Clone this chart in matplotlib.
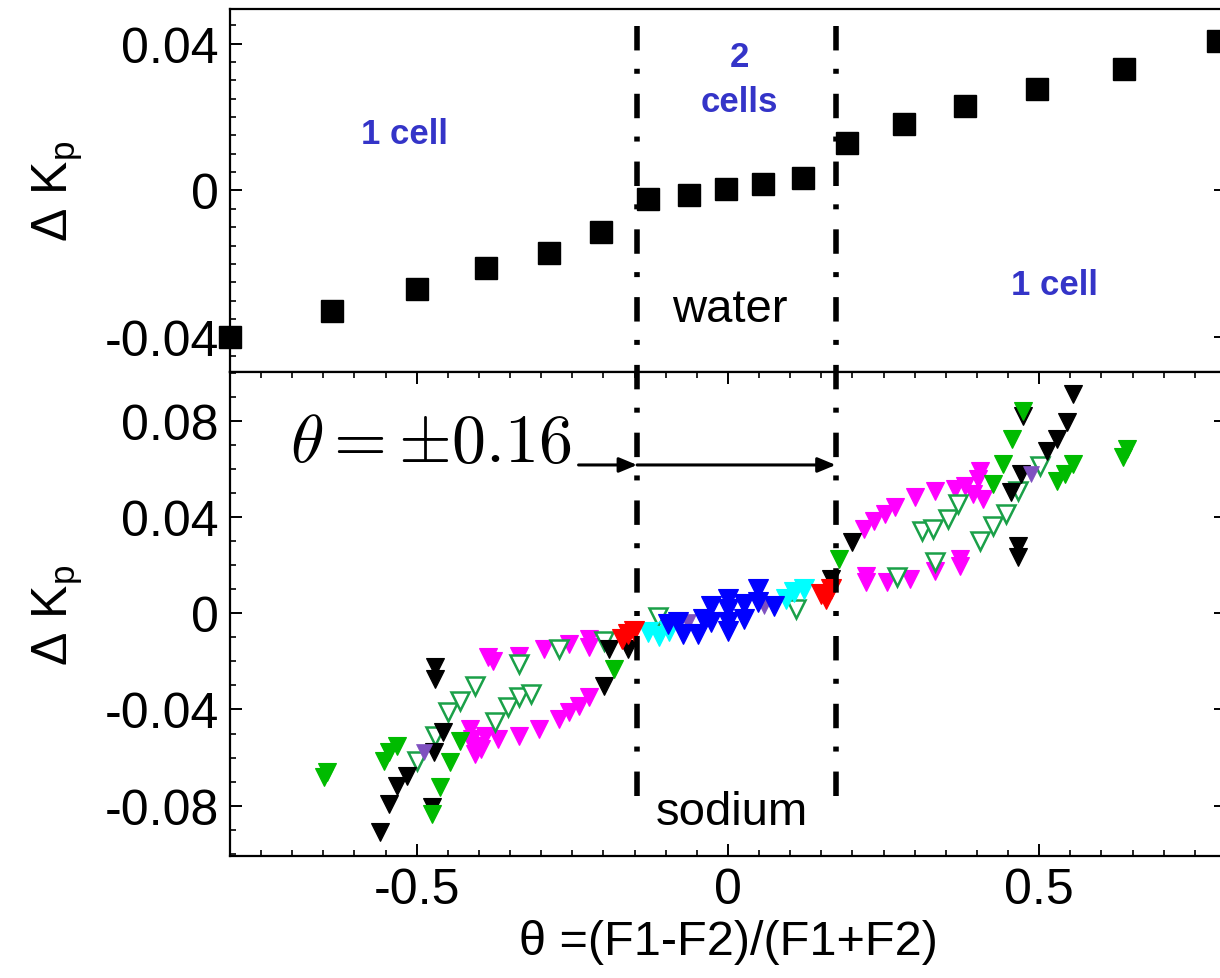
import matplotlib
matplotlib.use("Agg")
import matplotlib.pyplot as plt
import numpy as np
from matplotlib.ticker import MultipleLocator, FixedLocator
from matplotlib.lines import Line2D
import matplotlib.transforms as mtransforms

plt.rcParams['font.family'] = ['Liberation Sans', 'DejaVu Sans']
plt.rcParams['mathtext.fontset'] = 'custom'
plt.rcParams['mathtext.rm'] = 'Liberation Sans'
plt.rcParams['mathtext.it'] = 'Liberation Sans:italic'
plt.rcParams['mathtext.bf'] = 'Liberation Sans:bold'
plt.rcParams['axes.unicode_minus'] = False

# ---------------- data ----------------
# top panel: water, black squares
water_theta = [-0.800, -0.636, -0.500, -0.388, -0.288, -0.204, -0.128, -0.0625,
               -0.003, 0.056, 0.120, 0.192, 0.282, 0.381, 0.497, 0.636, 0.787]
water_dk = [-0.0400, -0.0329, -0.0267, -0.0212, -0.0169, -0.0112, -0.0022, -0.0011,
            0.0005, 0.0019, 0.0033, 0.0128, 0.0180, 0.0229, 0.0275, 0.0332, 0.0408]

# bottom panel: sodium, several series (triangles down)
green_theta = [-0.644, -0.649, -0.553, -0.545, -0.532, -0.431, -0.447, -0.463, -0.476,
               -0.183, 0.178, 0.426, 0.442, 0.457, 0.474, 0.554, 0.542, 0.529, 0.641, 0.635]
green_dk = [-0.0661, -0.0682, -0.0616, -0.0579, -0.0554, -0.0533, -0.0620, -0.0724, -0.0837,
            -0.0231, 0.0226, 0.0539, 0.0622, 0.0726, 0.0843, 0.0622, 0.0581, 0.0551, 0.0685, 0.0651]

black_theta = [-0.559, -0.545, -0.532, -0.516, -0.471, -0.471, -0.457, -0.473, -0.476,
               -0.199, -0.191, -0.160, 0.165, 0.200, 0.454, 0.470, 0.474, 0.554, 0.545,
               0.529, 0.513, 0.466, 0.466]
black_dk = [-0.0910, -0.0793, -0.0718, -0.0677, -0.0224, -0.0274, -0.0495, -0.0579, -0.0806,
            -0.0303, -0.0149, -0.0149, 0.0143, 0.0297, 0.0505, 0.0581, 0.0822, 0.0914, 0.0797,
            0.0726, 0.0676, 0.0280, 0.0234]

purple_theta = [-0.489, -0.064, 0.058, 0.486]
purple_dk = [-0.0579, -0.0036, 0.0030, 0.0581]

open_theta = [-0.500, -0.471, -0.449, -0.431, -0.407, -0.375, -0.353, -0.335, -0.316,
              -0.335, -0.272, -0.199, -0.112, 0.109, 0.272, 0.333, 0.312, 0.330, 0.353,
              0.370, 0.405, 0.426, 0.446, 0.466, 0.502]
open_dk = [-0.0616, -0.0510, -0.0410, -0.0364, -0.0301, -0.0451, -0.0389, -0.0347, -0.0335,
           -0.0211, -0.0149, -0.0115, -0.0015, 0.0018, 0.0151, 0.0214, 0.0343, 0.0351, 0.0393,
           0.0455, 0.0301, 0.0364, 0.0414, 0.0510, 0.0614]

magenta_theta = [-0.385, -0.377, -0.335, -0.296, -0.256, -0.223, -0.223,
                 -0.415, -0.409, -0.407, -0.391, -0.369, -0.335, -0.304, -0.272, -0.256,
                 -0.240, -0.224, -0.412, -0.396,
                 0.221, 0.221, 0.256, 0.293, 0.333, 0.373, 0.373,
                 0.218, 0.234, 0.253, 0.269, 0.301, 0.333, 0.365, 0.381, 0.393, 0.401,
                 0.405, 0.410]
magenta_dk = [-0.0182, -0.0199, -0.0178, -0.0149, -0.0128, -0.0140, -0.0106,
              -0.0482, -0.0552, -0.0585, -0.0510, -0.0522, -0.0510, -0.0482, -0.0440, -0.0411,
              -0.0386, -0.0349, -0.0524, -0.0565,
              0.0155, 0.0130, 0.0130, 0.0143, 0.0176, 0.0197, 0.0226,
              0.0351, 0.0385, 0.0414, 0.0443, 0.0485, 0.0510, 0.0518, 0.0530, 0.0497, 0.0560,
              0.0593, 0.0476]

blue_theta = [-0.096, -0.080, -0.072, -0.048, -0.040, -0.027, -0.027, 0.000, 0.000, 0.000,
              0.000, 0.026, 0.026, 0.048, 0.048, 0.074]
blue_dk = [-0.0045, -0.0036, -0.0086, -0.0086, -0.0024, -0.0036, 0.0030, 0.0060, 0.0018,
           -0.0036, -0.0074, -0.0024, 0.0039, 0.0101, 0.0047, 0.0030]

cyan_theta = [-0.128, -0.111, -0.095, 0.093, 0.106, 0.122]
cyan_dk = [-0.0078, -0.0094, -0.0074, 0.0060, 0.0089, 0.0101]

red_theta = [-0.171, -0.160, -0.151, 0.149, 0.157, 0.165]
red_dk = [-0.0107, -0.0086, -0.0074, 0.0080, 0.0060, 0.0101]

boundaries = [-0.146, 0.173]
arrow_start = -0.24
arrow_level = 0.0618

# ---------------- figure ----------------
fig = plt.figure(figsize=(12.2, 9.79), dpi=100)
ax1 = fig.add_axes([0.1885, 0.6190, 0.8164, 0.3708])
ax2 = fig.add_axes([0.1885, 0.1246, 0.8164, 0.4944], sharex=ax1)

TICK_FS = 36
for ax in (ax1, ax2):
    for sp in ax.spines.values():
        sp.set_linewidth(1.6)
    ax.tick_params(which='major', direction='in', length=8.5, width=1.4,
                   labelsize=TICK_FS, pad=8, right=True)
    ax.tick_params(which='minor', direction='in', length=4.5, width=1.2, right=True)

ax1.set_xlim(-0.8, 0.8)
ax1.set_ylim(-0.0494, 0.0494)
ax1.yaxis.set_major_locator(FixedLocator([-0.04, 0, 0.04]))
ax1.yaxis.set_minor_locator(MultipleLocator(0.005))
ax1.set_yticklabels(['-0.04', '0', '0.04'])
ax1.tick_params(axis='x', which='both', bottom=False, top=False, labelbottom=False)

ax2.set_ylim(-0.101, 0.1005)
ax2.yaxis.set_major_locator(FixedLocator([-0.08, -0.04, 0, 0.04, 0.08]))
ax2.yaxis.set_minor_locator(MultipleLocator(0.01))
ax2.set_yticklabels(['-0.08', '-0.04', '0', '0.04', '0.08'])
ax2.xaxis.set_major_locator(FixedLocator([-0.5, 0, 0.5]))
ax2.xaxis.set_minor_locator(MultipleLocator(0.05))
ax2.set_xticklabels(['-0.5', '0', '0.5'])
ax2.tick_params(axis='x', which='both', top=True)

# top panel data
ax1.plot(water_theta, water_dk, linestyle='none', marker='s', ms=15.5, color='black',
         mec='black', mew=1.0, clip_on=False, zorder=3)

# bottom panel data
tri = dict(linestyle='none', marker='v', zorder=3)
ax2.plot(magenta_theta, magenta_dk, ms=13, color='#ff00ff', mec='#ff00ff', mew=0.8, **tri)
ax2.plot(open_theta, open_dk, ms=12.5, color='white', mfc='white', mec='#1aa048', mew=1.8, **tri)
ax2.plot(black_theta, black_dk, ms=13, color='black', mec='black', mew=0.8, **tri)
ax2.plot(green_theta, green_dk, ms=13, color='#00bb00', mec='#00bb00', mew=0.8, **tri)
ax2.plot(purple_theta, purple_dk, ms=12, color='#7f50c0', mec='#7f50c0', mew=0.5, **tri)
ax2.plot(cyan_theta, cyan_dk, ms=15, color='#00ffff', mec='#00ffff', mew=0.8, **tri)
ax2.plot(blue_theta, blue_dk, ms=15, color='#0000ff', mec='#0000ff', mew=0.8, **tri)
ax2.plot(red_theta, red_dk, ms=15, color='#ff0000', mec='#ff0000', mew=0.8, **tri)

# dash-dot boundary lines spanning both panels
trans = mtransforms.blended_transform_factory(ax2.transData, fig.transFigure)
for b in boundaries:
    ln = Line2D([b, b], [1 - 27 / 979, 1 - 802 / 979], transform=trans, color='black',
                lw=4, linestyle=(0, (4.4, 3.3, 0.9, 3.6)), dash_capstyle='butt', zorder=5)
    fig.add_artist(ln)

# arrows
arrow_kw = dict(arrowstyle='-|>,head_length=0.6,head_width=0.25', color='black', lw=2.2,
                shrinkA=0, shrinkB=0, mutation_scale=18)
ax2.annotate('', xy=(boundaries[0], arrow_level), xytext=(arrow_start, arrow_level),
             arrowprops=arrow_kw)
ax2.annotate('', xy=(boundaries[1], arrow_level), xytext=(boundaries[0], arrow_level),
             arrowprops=arrow_kw)

# texts
blue = '#3434c8'
ax1.text(-0.519, 0.0130, '1 cell', color=blue, fontsize=25, fontweight='bold',
         ha='center', va='baseline')
ax1.text(0.018, 0.0339, '2', color=blue, fontsize=25, fontweight='bold', ha='center', va='baseline')
ax1.text(0.018, 0.0217, 'cells', color=blue, fontsize=25, fontweight='bold', ha='center', va='baseline')
ax1.text(0.524, -0.0281, '1 cell', color=blue, fontsize=25, fontweight='bold',
         ha='center', va='baseline')
ax1.text(0.003, -0.0355, 'water', color='black', fontsize=34, ha='center', va='baseline')
ax2.text(0.007, -0.0878, 'sodium', color='black', fontsize=34, ha='center', va='baseline')
ax2.text(-0.703, 0.0635, r'$\theta = \pm 0.16$', fontsize=49, math_fontfamily='cm',
         ha='left', va='baseline')

ax1.set_ylabel('Δ K$_\\mathrm{p}$', fontsize=36, labelpad=14)
ax2.set_ylabel('Δ K$_\\mathrm{p}$', fontsize=36, labelpad=14)
ax2.set_xlabel('θ =(F1-F2)/(F1+F2)', fontsize=35, labelpad=4)

fig.savefig('out.png', dpi=100)
